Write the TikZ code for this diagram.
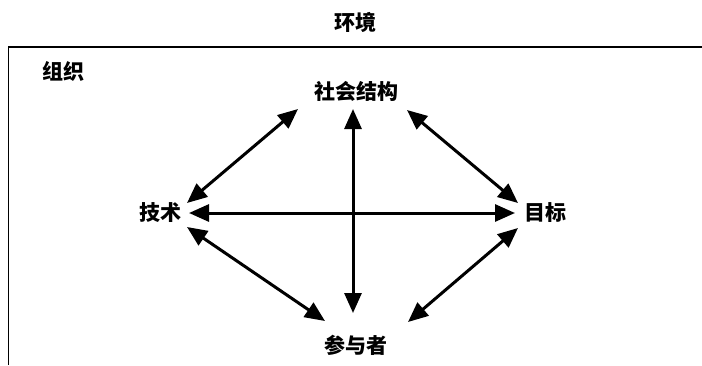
\documentclass[tikz,border=0pt]{standalone}
\usepackage{fontspec}
\newfontfamily\cjk{Noto Sans CJK SC}
\usetikzlibrary{arrows.meta}
\begin{document}
\begin{tikzpicture}[x=1pt,y=-1pt,
  lbl/.style={font=\cjk\bfseries\fontsize{21}{23}\selectfont, inner sep=0pt},
  biarrow/.style={line width=3pt, {Triangle[length=20pt,width=17pt]}-{Triangle[length=20pt,width=17pt]}}]
\useasboundingbox (0,0) rectangle (702,365);
% frame
\coordinate (fl) at (8,365);
\coordinate (fc) at (8,47);
\coordinate (fr) at (702,47);
\draw[line width=1pt] (fl) -- (fc);
\draw[line width=2pt] (fc) -- (fr);
% labels
\node[lbl] (env) at (355,22) {环境};
\node[lbl] (org) at (63,71) {组织};
\node[lbl] (soc) at (356,91) {社会结构};
\node[lbl] (tech) at (160,213) {技术};
\node[lbl] (goal) at (545,213) {目标};
\node[lbl] (part) at (356,345) {参与者};
% arrow end points
\coordinate (h1) at (189,213);
\coordinate (h2) at (515,213);
\coordinate (v1) at (353,109);
\coordinate (v2) at (353,313);
\coordinate (ul1) at (298,109);
\coordinate (ul2) at (187,203);
\coordinate (ur1) at (407,110);
\coordinate (ur2) at (518,203);
\coordinate (ll1) at (187,227);
\coordinate (ll2) at (325,321);
\coordinate (lr1) at (518,228);
\coordinate (lr2) at (408,322);
\draw[biarrow] (h1) -- (h2);
\draw[biarrow] (v1) -- (v2);
\draw[biarrow] (ul1) -- (ul2);
\draw[biarrow] (ur1) -- (ur2);
\draw[biarrow] (ll1) -- (ll2);
\draw[biarrow] (lr1) -- (lr2);
\end{tikzpicture}
\end{document}
